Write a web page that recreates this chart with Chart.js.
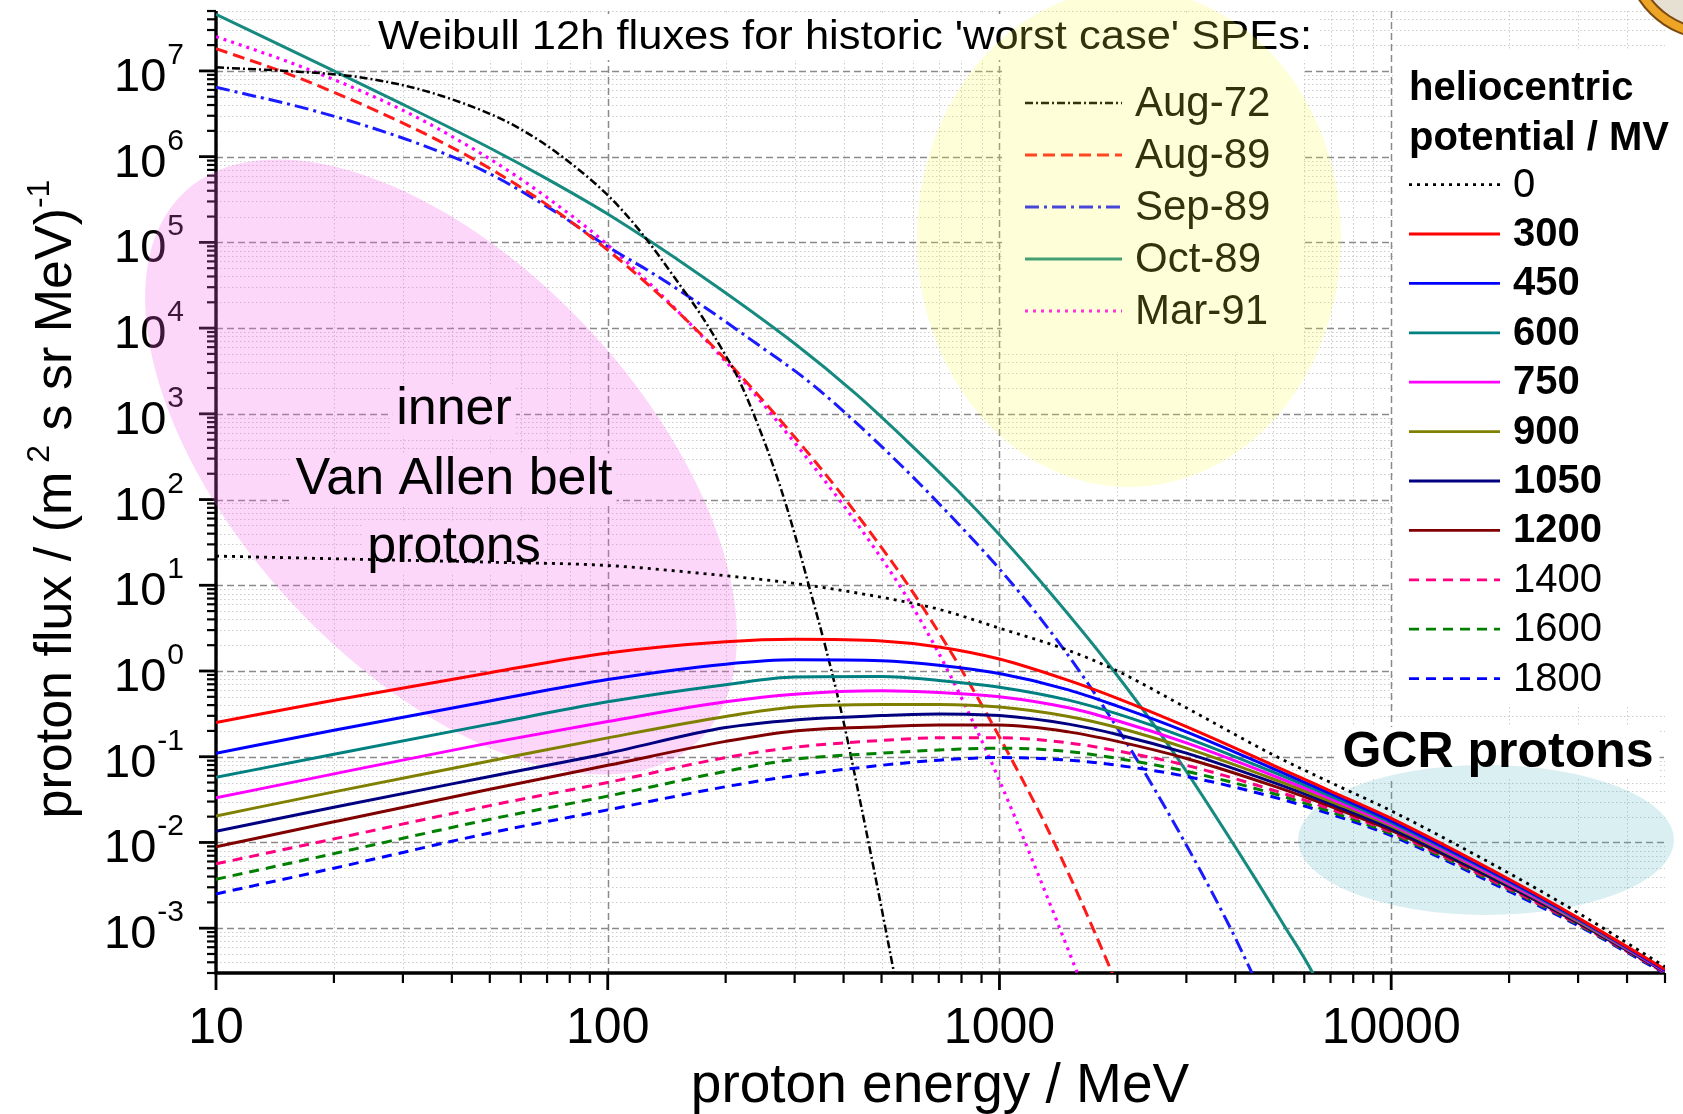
<!DOCTYPE html>
<html>
<head>
<meta charset="utf-8">
<title>Weibull 12h fluxes for historic 'worst case' SPEs</title>
<script src="https://cdn.jsdelivr.net/npm/chart.js@4.4.1/dist/chart.umd.min.js"></script>
<style>
html,body{margin:0;padding:0;background:#fff;}
#wrap{width:1683px;height:1114px;}
</style>
</head>
<body>
<div id="wrap"><canvas id="c" width="1683" height="1114"></canvas></div>
<script>
const FONT = '"Liberation Sans", Arial, Helvetica, sans-serif';
const TITLE = "Weibull 12h fluxes for historic 'worst case' SPEs:";

// GCR proton spectra for several heliocentric potentials (MV)
const gcrEnergy = [10, 20, 50, 100, 200, 300, 500, 700, 1000, 1500, 2000, 3000, 5000, 7000, 10000, 20000, 30000, 50000];
const gcrPotentials = ['0', '300', '450', '600', '750', '900', '1050', '1200', '1400', '1600', '1800'];
const gcr0    = [21.9, 20.4, 18.6, 17.0, 12.9, 10.5, 7.24, 5.25, 3.16, 1.74, 1.0, 0.372, 0.105, 0.0501, 0.0234, 0.00437, 0.00151, 0.000355];
const gcr300  = [0.251, 0.457, 0.955, 1.62, 2.19, 2.34, 2.24, 1.91, 1.38, 0.776, 0.479, 0.224, 0.0794, 0.0398, 0.0191, 0.00372, 0.00132, 0.000331];
const gcr450  = [0.110, 0.204, 0.447, 0.794, 1.20, 1.35, 1.32, 1.17, 0.933, 0.603, 0.389, 0.195, 0.0724, 0.0372, 0.0178, 0.00355, 0.00129, 0.000324];
const gcr600  = [0.0575, 0.107, 0.240, 0.437, 0.692, 0.851, 0.861, 0.776, 0.646, 0.457, 0.316, 0.166, 0.0661, 0.0347, 0.0170, 0.00347, 0.00126, 0.000324];
const gcr750  = [0.0331, 0.0631, 0.145, 0.257, 0.437, 0.537, 0.589, 0.562, 0.501, 0.372, 0.263, 0.145, 0.0603, 0.0324, 0.0162, 0.00331, 0.00123, 0.000316];
const gcr900  = [0.0204, 0.0389, 0.0891, 0.166, 0.295, 0.380, 0.407, 0.407, 0.380, 0.295, 0.219, 0.126, 0.0550, 0.0302, 0.0155, 0.00324, 0.00120, 0.000316];
const gcr1050 = [0.0135, 0.0257, 0.0589, 0.110, 0.219, 0.269, 0.302, 0.316, 0.302, 0.240, 0.182, 0.110, 0.0501, 0.0282, 0.0145, 0.00309, 0.00117, 0.000309];
const gcr1200 = [0.00891, 0.0174, 0.0417, 0.0794, 0.151, 0.200, 0.224, 0.234, 0.234, 0.195, 0.151, 0.0955, 0.0457, 0.0263, 0.0138, 0.00302, 0.00115, 0.000309];
const gcr1400 = [0.00562, 0.0110, 0.0269, 0.0501, 0.0977, 0.129, 0.155, 0.166, 0.166, 0.145, 0.117, 0.0794, 0.0407, 0.0245, 0.0132, 0.00288, 0.00112, 0.000302];
const gcr1600 = [0.00372, 0.00741, 0.0186, 0.0347, 0.0676, 0.0933, 0.110, 0.120, 0.126, 0.115, 0.0955, 0.0676, 0.0372, 0.0229, 0.0126, 0.00282, 0.00110, 0.000302];
const gcr1800 = [0.00251, 0.00501, 0.0129, 0.0240, 0.0447, 0.0603, 0.0794, 0.0912, 0.0977, 0.0912, 0.0794, 0.0589, 0.0339, 0.0214, 0.0120, 0.00269, 0.00107, 0.000295];

// Weibull fits of the historic solar particle events
const speNames = ['Aug-72', 'Aug-89', 'Sep-89', 'Oct-89', 'Mar-91'];
const aug72E = [10, 15, 23, 34, 50, 60, 75, 100, 121, 153, 172, 200, 215, 250, 277, 300, 326, 361, 399, 441, 489, 538, 580];
const aug72F = [1.10e7, 1.0e7, 8.51e6, 5.89e6, 3.16e6, 2.09e6, 1.07e6, 3.55e5, 1.35e5, 3.16e4, 1.48e4, 4.79e3, 2.63e3, 501, 132, 39.8, 10, 1.78, 0.269, 0.0302, 0.00288, 3.02e-4, 5.01e-5];
const aug89E = [10, 15, 22, 32, 48, 71, 100, 128, 172, 225, 300, 400, 575, 720, 830, 1000, 1300, 1585, 1930, 2100];
const aug89F = [1.82e7, 9.55e6, 4.68e6, 2.14e6, 8.13e5, 2.63e5, 8.13e4, 3.09e4, 8.71e3, 2.40e3, 537, 107, 11.2, 2.29, 0.776, 0.170, 0.0174, 0.00251, 3.16e-4, 1.26e-4];
const sep89E = [10, 18, 32, 48, 71, 100, 128, 172, 250, 313, 400, 575, 780, 1000, 1294, 1650, 2160, 2940, 3800, 4440, 4800];
const sep89F = [6.46e6, 3.39e6, 1.48e6, 6.92e5, 2.51e5, 8.91e4, 4.57e4, 1.91e4, 5.75e3, 2.75e3, 1.07e3, 224, 53.7, 15.5, 3.72, 0.813, 0.123, 0.011, 0.00123, 2.82e-4, 1.29e-4];
const oct89E = [10, 20, 30, 50, 70, 100, 172, 300, 433, 575, 780, 1000, 1361, 1900, 2790, 4100, 5300, 6500, 7000];
const oct89F = [4.57e7, 1.0e7, 4.07e6, 1.26e6, 5.5e5, 2.14e5, 4.17e4, 6.61e3, 1.66e3, 501, 129, 38.9, 7.76, 1.20, 0.110, 0.00741, 0.00112, 2.29e-4, 1.0e-4];
const mar91E = [10, 15, 22, 29.4, 39.5, 58.6, 87, 100, 128, 172, 225, 256, 368, 470, 575, 690, 811, 994, 1242, 1567, 1700];
const mar91F = [2.51e7, 1.32e7, 6.61e6, 3.63e6, 1.78e6, 5.89e5, 1.58e5, 9.33e4, 3.31e4, 8.51e3, 2.24e3, 1.12e3, 141, 30.9, 7.76, 1.82, 0.427, 0.0562, 0.00479, 3.31e-4, 1.26e-4];

const xTickValues = [10, 100, 1000, 10000];
const xTickLabels = ['10', '100', '1000', '10000'];
const yExponents = [-3, -2, -1, 0, 1, 2, 3, 4, 5, 6, 7];

// styles
const gcrSeries = [gcr0, gcr300, gcr450, gcr600, gcr750, gcr900, gcr1050, gcr1200, gcr1400, gcr1600, gcr1800];
const gcrColors = ['#000000', '#ff0000', '#0000ff', '#008080', '#ff00ff', '#808000', '#000080', '#800000', '#ff0080', '#008000', '#0000ff'];
const gcrDash = [[3, 5], [], [], [], [], [], [], [], [10, 7], [10, 7], [10, 7]];
const gcrBold = [false, true, true, true, true, true, true, true, false, false, false];
const speE = [aug72E, aug89E, sep89E, oct89E, mar91E];
const speF = [aug72F, aug89F, sep89F, oct89F, mar91F];
const speColors = ['#000000', '#ff1a1a', '#1a1aff', '#178a80', '#ff00ff'];
const speDash = [[8, 3, 2, 3], [12, 6], [14, 5, 3, 5], [], [3, 5]];
const speWidth = [2.5, 3, 3, 3, 3.2];

function pts(xs, ys){ return xs.map((x, i) => ({x, y: ys[i]})); }

const datasets = [];
gcrSeries.forEach((s, i) => datasets.push({
  label: gcrPotentials[i], group: 'gcr', bold: gcrBold[i], data: pts(gcrEnergy, s),
  borderColor: gcrColors[i], borderDash: gcrDash[i], borderWidth: i === 0 ? 2.8 : 3
}));
speNames.forEach((n, i) => datasets.push({
  label: n, group: 'spe', data: pts(speE[i], speF[i]),
  borderColor: speColors[i], borderDash: speDash[i], borderWidth: speWidth[i]
}));
datasets.forEach(d => Object.assign(d, {pointRadius: 0, fill: false, cubicInterpolationMode: 'monotone', borderCapStyle: 'butt'}));

function logTicks(min, max){
  const out = [];
  for (let e = Math.floor(Math.log10(min)); e <= Math.ceil(Math.log10(max)); e++)
    for (let m = 1; m <= 9; m++){
      const v = m * Math.pow(10, e);
      if (v >= min * 0.999 && v <= max * 1.001) out.push([v, m === 1]);
    }
  return out;
}

function drawRich(ctx, parts, cx, base, size, supSize, rise){
  let w = 0;
  parts.forEach(([t, s]) => { ctx.font = `${s ? supSize : size}px ${FONT}`; w += ctx.measureText(t).width; });
  let xx = cx - w / 2;
  ctx.textAlign = 'left'; ctx.textBaseline = 'alphabetic';
  parts.forEach(([t, s]) => {
    ctx.font = `${s ? supSize : size}px ${FONT}`;
    ctx.fillText(t, xx, s ? base - rise : base);
    xx += ctx.measureText(t).width;
  });
}

const pinkLines = [['inner', 424], ['Van Allen belt', 493.5], ['protons', 562]];

const decor = {
  id: 'decor',
  beforeDatasetsDraw(chart){
    const {ctx, chartArea: a, scales: {x, y}} = chart;
    const xt = logTicks(x.min, x.max), yt = logTicks(y.min, y.max);
    ctx.save();
    // grid
    ctx.save();
    ctx.beginPath(); ctx.rect(a.left, a.top, a.right - a.left, a.bottom - a.top); ctx.clip();
    [[false, '#cccccc', 1, [1.5, 2.5]], [true, '#8a8a8a', 1.5, [7, 4]]].forEach(([maj, col, lw, dash]) => {
      ctx.strokeStyle = col; ctx.lineWidth = lw; ctx.setLineDash(dash);
      xt.filter(t => t[1] === maj).forEach(([v]) => {
        const p = Math.round(x.getPixelForValue(v)) + .5;
        ctx.beginPath(); ctx.moveTo(p, a.top); ctx.lineTo(p, a.bottom); ctx.stroke();
      });
      yt.filter(t => t[1] === maj).forEach(([v]) => {
        const p = Math.round(y.getPixelForValue(v)) + .5;
        ctx.beginPath(); ctx.moveTo(a.left, p); ctx.lineTo(a.right, p); ctx.stroke();
      });
    });
    ctx.restore();

    // white boxes behind texts and legends
    ctx.fillStyle = '#fff';
    ctx.fillRect(1002, 58, 300, 294);
    ctx.fillRect(1393, 50, 290, 656);
    ctx.fillRect(845 - 934 / 2 - 6, 14, 934 + 12, 46);
    ctx.font = `52px ${FONT}`;
    pinkLines.forEach(([t, b]) => { const w = ctx.measureText(t).width; ctx.fillRect(454 - w / 2 - 4, b - 40, w + 8, 52); });
    ctx.font = `bold 50px ${FONT}`;
    const gw = ctx.measureText('GCR protons').width;
    ctx.fillRect(1498 - gw / 2 - 6, 767 - 40, gw + 12, 52);

    // title (under the yellow patch)
    ctx.fillStyle = '#000';
    ctx.font = `40px ${FONT}`;
    const tw = ctx.measureText(TITLE).width;
    ctx.save(); ctx.translate(845, 49.4); ctx.scale(934 / tw, 1);
    ctx.textAlign = 'center'; ctx.textBaseline = 'alphabetic'; ctx.fillText(TITLE, 0, 0);
    ctx.restore();

    // SPE legend
    ctx.font = `42px ${FONT}`; ctx.textAlign = 'left'; ctx.textBaseline = 'middle';
    chart.data.datasets.filter(d => d.group === 'spe').forEach((d, i) => {
      const yy = 103 + 52 * i;
      ctx.strokeStyle = d.borderColor; ctx.lineWidth = d.borderWidth; ctx.setLineDash(d.borderDash);
      ctx.beginPath(); ctx.moveTo(1025, yy); ctx.lineTo(1122, yy); ctx.stroke();
      ctx.fillStyle = '#000'; ctx.fillText(d.label, 1135, yy + 1);
    });

    // axes, ticks, tick labels
    ctx.setLineDash([]); ctx.strokeStyle = '#000';
    xt.forEach(([v, maj]) => {
      const p = x.getPixelForValue(v);
      ctx.lineWidth = maj ? 2.8 : 2.2;
      ctx.beginPath(); ctx.moveTo(p, a.bottom); ctx.lineTo(p, a.bottom + (maj ? 17 : 10)); ctx.stroke();
    });
    yt.forEach(([v, maj]) => {
      const p = y.getPixelForValue(v);
      ctx.lineWidth = maj ? 2.8 : 2.2;
      ctx.beginPath(); ctx.moveTo(a.left, p); ctx.lineTo(a.left - (maj ? 17 : 9), p); ctx.stroke();
    });
    ctx.lineWidth = 3.4;
    ctx.beginPath(); ctx.moveTo(a.left, a.top); ctx.lineTo(a.left, a.bottom); ctx.lineTo(a.right, a.bottom); ctx.stroke();

    ctx.fillStyle = '#000'; ctx.textBaseline = 'alphabetic';
    ctx.font = `50px ${FONT}`; ctx.textAlign = 'center';
    xTickValues.forEach((v, i) => ctx.fillText(xTickLabels[i], x.getPixelForValue(v), 1043));
    ctx.textAlign = 'right';
    yExponents.forEach(e => {
      const p = y.getPixelForValue(Math.pow(10, e)), sup = String(e);
      ctx.font = `30px ${FONT}`;
      const ws = ctx.measureText(sup).width;
      ctx.fillText(sup, 184, p - 7);
      ctx.font = `47px ${FONT}`;
      ctx.fillText('10', 184 - ws - 1, p + 20);
    });

    // shaded regions
    ctx.fillStyle = 'rgba(250,250,60,0.2)';
    ctx.beginPath(); ctx.ellipse(1129, 238, 212, 249, 0, 0, Math.PI * 2); ctx.fill();
    ctx.fillStyle = 'rgba(80,180,190,0.22)';
    ctx.beginPath(); ctx.ellipse(1486, 840, 188, 75, 0, 0, Math.PI * 2); ctx.fill();
    ctx.fillStyle = 'rgba(245,95,235,0.25)';
    ctx.beginPath(); ctx.ellipse(441, 467, 376, 202, 47 * Math.PI / 180, 0, Math.PI * 2); ctx.fill();
    ctx.restore();
  },
  afterDraw(chart){
    const {ctx} = chart;
    ctx.save();
    ctx.fillStyle = '#000';
    ctx.textAlign = 'center'; ctx.textBaseline = 'alphabetic';
    ctx.font = `52px ${FONT}`;
    pinkLines.forEach(([t, b]) => ctx.fillText(t, 454, b));
    ctx.font = `bold 50px ${FONT}`;
    ctx.fillText('GCR protons', 1498, 767);

    // GCR legend
    ctx.textAlign = 'left';
    ctx.font = `bold 40px ${FONT}`;
    ctx.fillText('heliocentric', 1409, 100);
    ctx.fillText('potential / MV', 1409, 150);
    ctx.textBaseline = 'middle';
    chart.data.datasets.filter(d => d.group === 'gcr').forEach((d, i) => {
      const yy = 184.6 + 49.4 * i;
      ctx.strokeStyle = d.borderColor; ctx.lineWidth = 2.8; ctx.setLineDash(d.borderDash);
      ctx.beginPath(); ctx.moveTo(1409, yy); ctx.lineTo(1500, yy); ctx.stroke();
      ctx.font = `${d.bold ? 'bold ' : ''}40px ${FONT}`;
      ctx.fillText(d.label, 1513, yy + 1);
    });
    ctx.setLineDash([]);

    // axis titles
    ctx.font = `55px ${FONT}`; ctx.textAlign = 'center'; ctx.textBaseline = 'alphabetic';
    ctx.fillText('proton energy / MeV', 940, 1102);
    ctx.save();
    ctx.translate(54, 499); ctx.rotate(-Math.PI / 2);
    drawRich(ctx, [['proton flux / (m', 0], [' 2', 1], [' s sr MeV)', 0], ['-1', 1]], 0, 17, 52, 32, 22);
    ctx.restore();

    // corner logo fragment
    const rings = [[88, '#7a4a12'], [86, '#eea424'], [78, '#7a4a12'], [76, '#e6e0d2']];
    rings.forEach(([r, c]) => { ctx.fillStyle = c; ctx.beginPath(); ctx.arc(1712, -48, r, 0, Math.PI * 2); ctx.fill(); });
    ctx.restore();
  }
};

new Chart(document.getElementById('c'), {
  type: 'line',
  data: {datasets},
  options: {
    responsive: false, animation: false, devicePixelRatio: 1, events: [],
    layout: {padding: {left: 0, right: 18, top: 11, bottom: 0}},
    plugins: {legend: {display: false}, tooltip: {enabled: false}, title: {display: false}},
    scales: {
      x: {type: 'logarithmic', min: 10, max: 50000, ticks: {display: false}, grid: {display: false}, border: {display: false},
          afterFit(s){ s.height = 141; }},
      y: {type: 'logarithmic', min: 3e-4, max: 5e7, ticks: {display: false}, grid: {display: false}, border: {display: false},
          afterFit(s){ s.width = 216; }}
    }
  },
  plugins: [decor]
});
</script>
</body>
</html>
